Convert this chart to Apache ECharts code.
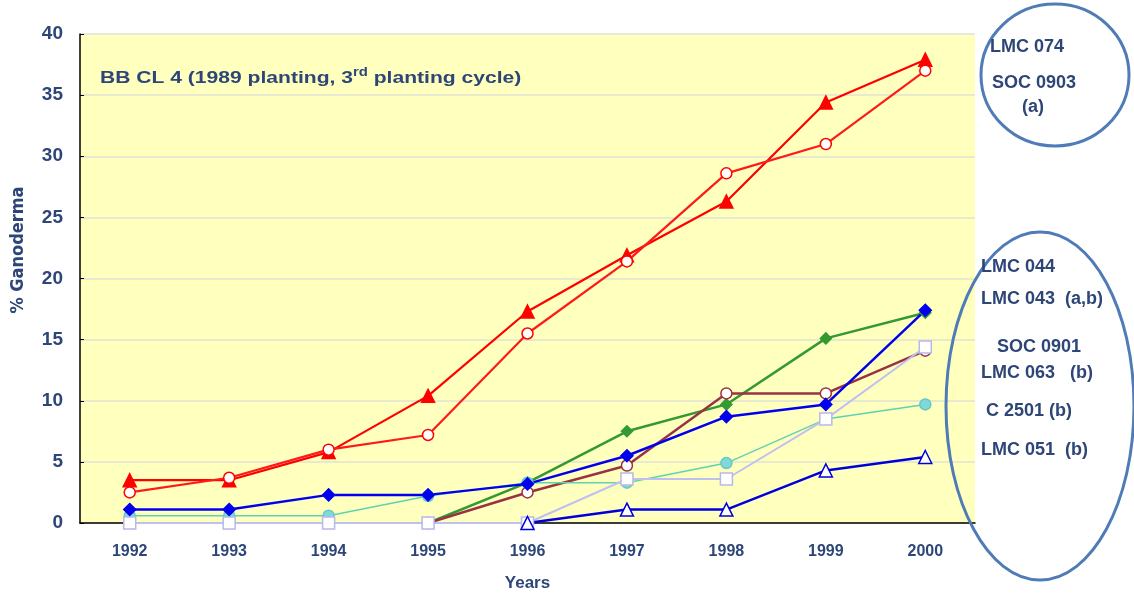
<!DOCTYPE html>
<html>
<head>
<meta charset="utf-8">
<script src="https://cdn.jsdelivr.net/npm/echarts@6/dist/echarts.min.js"></script>
<style>
html,body{margin:0;padding:0;background:#fff;}
#chart{width:1134px;height:594px;}
</style>
</head>
<body>
<div id="chart"></div>
<script>
// data
var years = ["1992","1993","1994","1995","1996","1997","1998","1999","2000"];
var redTri    = [3.5, 3.5, 5.8, 10.4, 17.3, 21.9, 26.3, 34.4, 37.9];
var redCircle = [2.5, 3.7, 6.0, 7.2, 15.5, 21.4, 28.6, 31.0, 37.0];
var blueDiam  = [1.1, 1.1, 2.3, 2.3, 3.2, 5.5, 8.7, 9.7, 17.4];
var greenDiam = [null, null, null, 0, 3.3, 7.5, 9.7, 15.1, 17.2];
var brownCirc = [null, null, null, 0, 2.5, 4.7, 10.6, 10.6, 14.1];
var cyanCirc  = [0.6, 0.6, 0.6, 2.2, 3.3, 3.3, 4.9, 8.5, 9.7];
var lavSquare = [0, 0, 0, 0, 0, 3.6, 3.6, 8.5, 14.4];
var blueTri   = [null, null, null, null, 0, 1.1, 1.1, 4.3, 5.4];
var yTicks = [0, 5, 10, 15, 20, 25, 30, 35, 40];

var textColor = "#2d4677";
var ringColor = "#4f7cb6";
var narrow = "DejaVu Sans Condensed, Liberation Sans";

function line(name, data, color, width, symbol, size, fill, border) {
    return {
        name: name,
        type: "line",
        data: data,
        symbol: symbol,
        symbolSize: size,
        showSymbol: true,
        connectNulls: false,
        lineStyle: {color: color, width: width},
        itemStyle: {color: fill, borderColor: border, borderWidth: 1.5},
        z: 3
    };
}

function label(text, x, y) {
    return {type: "text", left: x, top: y, z: 10, style: {text: text, fill: textColor, font: "bold 18px Liberation Sans"}};
}

var myChart = echarts.init(document.getElementById("chart"));
myChart.setOption({
    animation: false,
    grid: {left: 80, right: 159, top: 34, bottom: 71, outerBoundsMode: "none", containLabel: false,
           show: true, backgroundColor: "#ffffbe", borderWidth: 0},
    xAxis: {
        type: "category",
        data: years,
        boundaryGap: true,
        name: "Years",
        nameLocation: "middle",
        nameGap: 52,
        nameTextStyle: {color: textColor, fontSize: 17, fontWeight: "bold", fontFamily: "Liberation Sans"},
        axisLine: {lineStyle: {color: "#000", width: 1.5}},
        axisTick: {inside: true, length: 5, lineStyle: {color: "#000"}},
        axisLabel: {color: textColor, fontSize: 16, fontWeight: "bold", fontFamily: "Liberation Sans", margin: 21}
    },
    yAxis: {
        type: "value",
        min: yTicks[0],
        max: yTicks[yTicks.length - 1],
        interval: 5,
        axisLine: {show: true, lineStyle: {color: "#000", width: 1.5}},
        axisTick: {show: true, inside: true, length: 4, lineStyle: {color: "#000"}},
        axisLabel: {color: textColor, fontSize: 19, fontWeight: "bold", fontFamily: "Liberation Sans", margin: 17},
        splitLine: {lineStyle: {color: "#e2e2d4", width: 1.5}}
    },
    series: [
        line("LMC 074", redTri, "#ff0000", 2.2, "triangle", 13, "#ff0000", "#ff0000"),
        line("SOC 0903", redCircle, "#ff1a1a", 2.2, "circle", 11, "#ffffff", "#ff0000"),
        line("LMC 043", greenDiam, "#339933", 2.5, "diamond", 11, "#339933", "#339933"),
        line("SOC 0901", brownCirc, "#993344", 2.5, "circle", 11, "#ffffff", "#993344"),
        line("C 2501", cyanCirc, "#5fd3b0", 1.5, "circle", 11, "#80d8d8", "#66c8c8"),
        line("LMC 063", lavSquare, "#c0c0f0", 2, "rect", 12, "#ffffff", "#b8b8ec"),
        line("LMC 044", blueDiam, "#0000ee", 2.5, "diamond", 12, "#0000ee", "#0000ee"),
        line("LMC 051", blueTri, "#0000dd", 2.5, "triangle", 13, "#ffffff", "#0000dd")
    ],
    graphic: [
        {
            type: "text", x: 100, y: 67, scaleX: 1.24, z: 10,
            style: {
                text: "{t|BB CL 4 (1989 planting, 3}{s|rd}{t| planting cycle)}",
                rich: {
                    t: {fill: textColor, fontSize: 17, fontWeight: "bold", fontFamily: "Liberation Sans", verticalAlign: "bottom"},
                    s: {fill: textColor, fontSize: 12, fontWeight: "bold", fontFamily: "Liberation Sans", verticalAlign: "top", padding: [0, 0, 8, 0]}
                }
            }
        },
        {
            type: "text", x: 18, y: 250, rotation: Math.PI / 2, z: 10,
            style: {text: "% Ganoderma", fill: textColor, font: "bold 18px " + narrow, align: "center", verticalAlign: "middle"}
        },
        {type: "ellipse", z: 10, shape: {cx: 1055, cy: 75, rx: 74, ry: 71}, style: {fill: "none", stroke: ringColor, lineWidth: 3}},
        {type: "ellipse", z: 10, shape: {cx: 1040, cy: 406, rx: 94, ry: 174}, style: {fill: "none", stroke: ringColor, lineWidth: 3}},
        label("LMC 074", 990, 38),
        label("SOC 0903", 992, 74),
        label("(a)", 1022, 98),
        label("LMC 044", 981, 258),
        label("LMC 043  (a,b)", 981, 290),
        label("SOC 0901", 997, 338),
        label("LMC 063   (b)", 981, 364),
        label("C 2501 (b)", 986, 402),
        label("LMC 051  (b)", 981, 441)
    ]
});
window.addEventListener("resize", function() {
    myChart.resize();
});
</script>
</body>
</html>
